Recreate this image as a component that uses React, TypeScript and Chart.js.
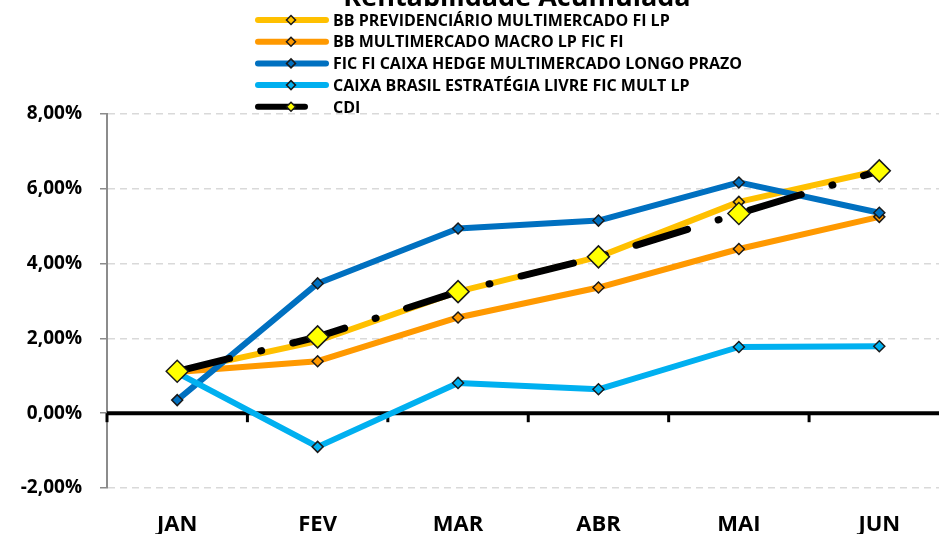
import React, { useEffect, useRef } from 'react';
import { Chart, registerables } from 'chart.js';

Chart.register(...registerables);

const months = ['JAN', 'FEV', 'MAR', 'ABR', 'MAI', 'JUN'];
const bbPrevidenciario = [1.12, 1.93, 3.25, 4.18, 5.65, 6.49];
const bbMacro = [1.1, 1.39, 2.56, 3.36, 4.39, 5.25];
const caixaHedge = [0.35, 3.47, 4.94, 5.15, 6.17, 5.36];
const caixaLivre = [1.08, -0.9, 0.81, 0.64, 1.77, 1.79];
const cdi = [1.12, 2.04, 3.25, 4.18, 5.34, 6.48];
const yTickValues = [-2, 0, 2, 4, 6, 8];
const seriesNames = [
  'BB PREVIDENCIÁRIO MULTIMERCADO FI LP',
  'BB MULTIMERCADO MACRO LP FIC FI',
  'FIC FI CAIXA HEDGE MULTIMERCADO LONGO PRAZO',
  'CAIXA BRASIL ESTRATÉGIA LIVRE FIC MULT LP',
  'CDI',
];
const titleText = 'Rentabilidade Acumulada';

const FONT = '"Open Sans", "DejaVu Sans", sans-serif';
const seriesColors = ['#FFC000', '#FF9900', '#0070C0', '#00B0F0', '#000000'];
const markerFills = ['#FFC000', '#FF9900', '#0070C0', '#00B0F0', '#FFFF00'];

const fmtPct = (v: number) => v.toFixed(2).replace('.', ',') + '%';

function drawDiamond(ctx: CanvasRenderingContext2D, x: number, y: number, r: number, fill: string) {
  ctx.beginPath();
  ctx.moveTo(x, y - r);
  ctx.lineTo(x + r, y);
  ctx.lineTo(x, y + r);
  ctx.lineTo(x - r, y);
  ctx.closePath();
  ctx.fillStyle = fill;
  ctx.fill();
  ctx.lineWidth = 1.5;
  ctx.strokeStyle = '#1a1a1a';
  ctx.stroke();
}

const zeroLinePlugin = {
  id: 'zeroLine',
  beforeDatasetsDraw(chart: any) {
    const { ctx, chartArea, scales } = chart;
    const y0 = scales.y.getPixelForValue(0);
    const xs = scales.x;
    ctx.save();
    ctx.strokeStyle = '#000';
    ctx.lineWidth = 4;
    ctx.beginPath();
    ctx.moveTo(chartArea.left, y0);
    ctx.lineTo(chartArea.right, y0);
    ctx.stroke();
    ctx.lineWidth = 3;
    const bounds: number[] = [chartArea.left];
    for (let i = 0; i < months.length - 1; i++) {
      bounds.push((xs.getPixelForValue(i) + xs.getPixelForValue(i + 1)) / 2);
    }
    bounds.forEach((bx) => {
      ctx.beginPath();
      ctx.moveTo(bx, y0);
      ctx.lineTo(bx, y0 + 9);
      ctx.stroke();
    });
    ctx.restore();
  },
};

const legendTitlePlugin = {
  id: 'legendTitle',
  afterDraw(chart: any) {
    const { ctx } = chart;
    ctx.save();
    ctx.fillStyle = '#000';
    ctx.font = `bold 27px ${FONT}`;
    ctx.textAlign = 'center';
    ctx.textBaseline = 'alphabetic';
    ctx.fillText(titleText, 517, 6);

    const fs = 16;
    ctx.font = `bold ${fs}px ${FONT}`;
    ctx.textAlign = 'left';
    const rowY0 = 20;
    const rowStep = 21.7;
    seriesNames.forEach((name, i) => {
      const y = rowY0 + i * rowStep;
      const isCdi = i === 4;
      ctx.strokeStyle = seriesColors[i];
      ctx.lineWidth = 6;
      ctx.lineCap = 'round';
      ctx.beginPath();
      ctx.moveTo(258, y);
      ctx.lineTo(isCdi ? 305 : 326, y);
      ctx.stroke();
      drawDiamond(ctx, 291, y, 4.5, markerFills[i]);
      ctx.fillStyle = '#000';
      ctx.fillText(name, 333, y + fs * 0.357);
    });
    ctx.restore();
  },
};

export default function App() {
  const canvasRef = useRef<HTMLCanvasElement | null>(null);

  useEffect(() => {
    const canvas = canvasRef.current;
    if (!canvas) return;
    const dataArrays = [bbPrevidenciario, bbMacro, caixaHedge, caixaLivre, cdi];
    const orders = [4, 3, 2, 1, 0];
    const datasets = dataArrays.map((d, i) => {
      const isCdi = i === 4;
      return {
        label: seriesNames[i],
        data: d,
        order: orders[i],
        borderColor: seriesColors[i],
        backgroundColor: markerFills[i],
        borderWidth: isCdi ? 7 : 6,
        borderCapStyle: isCdi ? 'round' : 'butt',
        borderJoinStyle: 'round',
        borderDash: isCdi ? [54, 32, 1, 32] : [],
        tension: 0,
        fill: false,
        pointStyle: 'rectRot',
        pointRadius: isCdi ? 11 : 5.5,
        pointBorderWidth: 1.5,
        pointBorderColor: '#1a1a1a',
        pointBackgroundColor: markerFills[i],
      };
    });

    const chart = new Chart(canvas, {
      type: 'line',
      data: { labels: months, datasets: datasets as any },
      options: {
        animation: false,
        responsive: false,
        maintainAspectRatio: false,
        layout: { padding: { left: 0, right: 2, top: 114, bottom: 0 } },
        plugins: {
          legend: { display: false },
          title: { display: false },
          tooltip: { enabled: false },
        },
        scales: {
          x: {
            type: 'category',
            offset: true,
            grid: { display: false, drawTicks: false },
            border: { display: false },
            ticks: {
              color: '#000',
              font: { family: FONT, size: 22, weight: 'bold' },
              padding: 24,
              maxRotation: 0,
              autoSkip: false,
            },
            afterFit: (s: any) => {
              s.height = 46;
            },
          },
          y: {
            min: -2,
            max: 8,
            afterBuildTicks: (s: any) => {
              s.ticks = yTickValues.map((v) => ({ value: v }));
            },
            grid: {
              color: (c: any) => (c.tick && c.tick.value === 0 ? 'rgba(0,0,0,0)' : '#d9d9d9'),
              lineWidth: 1.5,
              tickColor: '#8c8c8c',
              tickLength: 7,
              tickWidth: 1.5,
            },
            border: { display: true, color: '#8c8c8c', width: 2, dash: [7, 5] },
            ticks: {
              color: '#000',
              font: { family: FONT, size: 19, weight: 'bold' },
              padding: 18,
              callback: (v: any) => fmtPct(Number(v)),
            },
            afterFit: (s: any) => {
              s.width = 107;
            },
          },
        },
      },
      plugins: [zeroLinePlugin, legendTitlePlugin],
    });
    return () => chart.destroy();
  }, []);

  return (
    <div style={{ position: 'absolute', left: 0, top: 0, width: 939, height: 534, overflow: 'hidden', background: '#fff' }}>
      <canvas ref={canvasRef} width={962} height={534} style={{ display: 'block', width: 962, height: 534 }} />
    </div>
  );
}
